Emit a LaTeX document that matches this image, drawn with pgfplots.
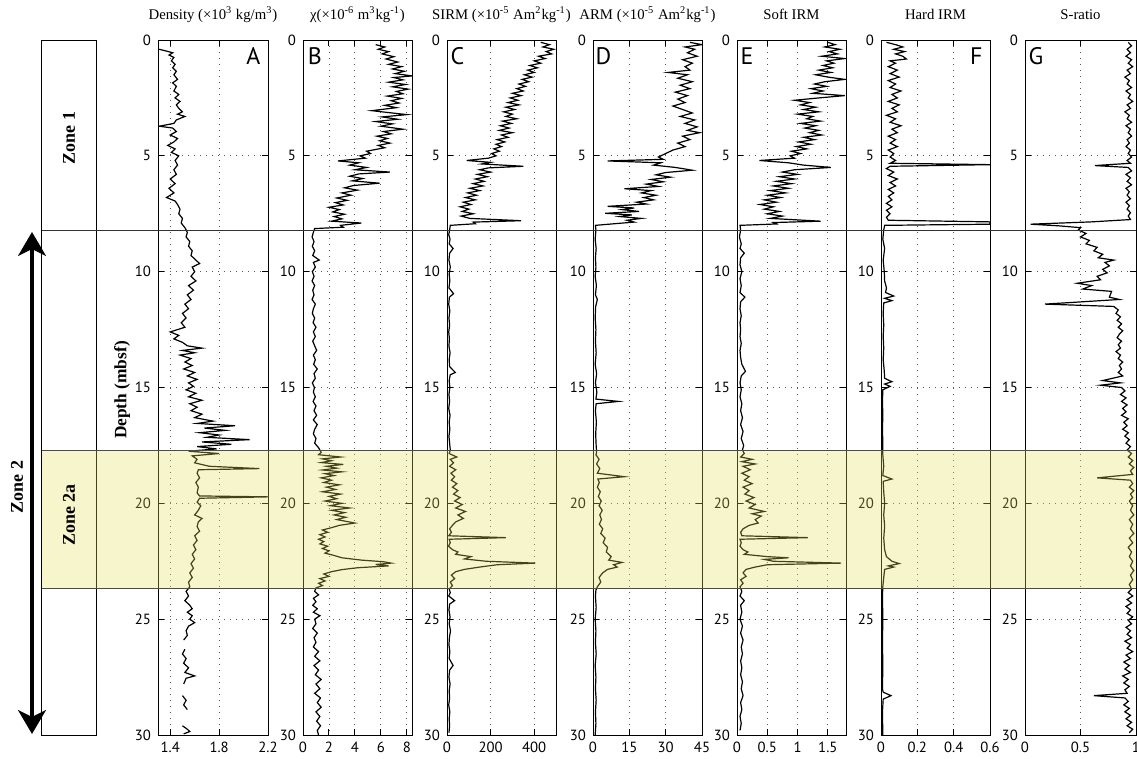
\documentclass[border=0pt]{standalone}
\usepackage{fontspec}
\setmainfont{Liberation Serif}
\newfontfamily\tickfont{PT Sans}
\usepackage{pgfplots}
\pgfplotsset{compat=1.18}
\usetikzlibrary{arrows.meta}
\definecolor{bandyellow}{RGB}{226,223,87}
\tikzset{
 letterR/.style={anchor=north east, inner sep=0pt, font=\tickfont\fontsize{12}{14}\selectfont},
 letterL/.style={anchor=north west, inner sep=0pt, font=\tickfont\fontsize{12}{14}\selectfont},
}
\pgfplotsset{
 panel/.style={
  scale only axis, width=54.5bp, height=347.5bp, anchor=south west,
  y dir=reverse, ymin=0, ymax=30, ytick={0,5,10,15,20,25,30},
  grid=major, major grid style={black!65, line width=0.45bp, dash pattern=on 0.5bp off 2.5bp},
  tick align=inside, major tick length=3bp,
  every tick/.style={black, line width=0.5bp},
  axis line style={line width=0.5bp},
  ticklabel style={font=\tickfont\fontsize{7.4}{8}\selectfont},
  /pgf/number format/assume math mode=true,
  /pgf/number format/fixed,
  unbounded coords=jump,
  title style={at={(axis description cs:0.5,1.013)}, anchor=base, inner sep=0pt, font=\fontsize{7.4}{9}\selectfont},
 },
 trace/.style={black, line width=0.6bp},
}
\begin{document}
\begin{tikzpicture}
\useasboundingbox (0,0) rectangle (568.5bp,-379.5bp);
% A density
\begin{axis}[panel, at={(79bp,-367.5bp)}, width=55bp, xmin=1.3, xmax=2.2, xtick={1.4,1.8,2.2},
 title={Density (×10\textsuperscript{3} kg/m\textsuperscript{3})}]
\addplot[trace] coordinates {(1.31,0.40) (1.37,0.48) (1.42,0.55) (1.39,0.65) (1.43,0.75) (1.41,0.9) (1.44,1.05) (1.42,1.2) (1.45,1.35) (1.43,1.5) (1.46,1.7) (1.42,1.85) (1.45,2.0) (1.43,2.2) (1.47,2.35) (1.44,2.5) (1.48,2.65) (1.45,2.8) (1.47,2.95) (1.50,3.1) (1.46,3.2) (1.52,3.3) (1.45,3.45) (1.43,3.6) (1.31,3.72) (1.42,3.8) (1.45,3.95) (1.40,4.1) (1.46,4.25) (1.43,4.4) (1.38,4.55) (1.44,4.7) (1.41,4.85) (1.47,5.0) (1.44,5.2) (1.46,5.4) (1.43,5.6) (1.45,5.8) (1.40,6.0) (1.44,6.2) (1.39,6.4) (1.43,6.6) (1.37,6.8) (1.44,6.95) (1.46,7.1) (1.48,7.3) (1.47,7.5) (1.50,7.7) (1.49,7.9) (1.52,8.1) (1.54,8.3) (1.53,8.5) (1.56,8.7) (1.55,8.9) (1.58,9.1) (1.57,9.3) (1.61,9.5) (1.64,9.65) (1.58,9.8) (1.60,10.0) (1.57,10.2) (1.61,10.4) (1.55,10.6) (1.59,10.8) (1.54,11.0) (1.57,11.2) (1.52,11.4) (1.55,11.6) (1.50,11.8) (1.53,12.0) (1.49,12.2) (1.52,12.4) (1.40,12.6) (1.47,12.75) (1.43,12.9) (1.50,13.05) (1.54,13.2) (1.66,13.3) (1.50,13.4) (1.60,13.5) (1.48,13.6) (1.57,13.75) (1.52,13.9) (1.58,14.05) (1.51,14.2) (1.60,14.35) (1.54,14.5) (1.62,14.65) (1.55,14.8) (1.59,14.95) (1.53,15.1) (1.61,15.25) (1.55,15.4) (1.66,15.55) (1.56,15.7) (1.62,15.85) (1.57,16.0) (1.66,16.15) (1.60,16.3) (1.75,16.45) (1.62,16.55) (1.93,16.65) (1.68,16.75) (1.85,16.85) (1.64,16.95) (1.80,17.05) (1.70,17.15) (2.05,17.25) (1.66,17.35) (1.90,17.45) (1.62,17.55) (1.78,17.65) (1.55,17.75) (1.80,17.85) (1.58,17.95) (1.62,18.1) (1.60,18.25) (1.72,18.4) (2.13,18.5) (1.63,18.55) (1.62,18.7) (1.64,18.9) (1.61,19.1) (1.63,19.3) (1.62,19.55) (1.64,19.68) (2.20,19.72) (1.64,19.78) (1.62,19.95) (1.65,20.1) (1.63,20.3) (1.60,20.5) (1.66,20.65) (1.63,20.8) (1.62,21.0) (1.64,21.2) (1.60,21.4) (1.62,21.6) (1.59,21.8) (1.61,22.0) (1.58,22.2) (1.60,22.4) (1.57,22.6) (1.59,22.8) (1.56,23.0) (1.58,23.2) (1.55,23.4) (1.56,23.6) (1.53,23.8) (1.55,24.0) (1.52,24.2) (1.56,24.4) (1.58,24.55) (1.54,24.7) (1.58,24.85) (1.56,25.0) (1.60,25.15) (1.55,25.3) (1.53,25.5) (1.54,25.7) (1.51,25.9) (nan,26.1) (1.52,26.3) (1.50,26.5) (1.53,26.7) (1.51,26.9) (1.55,27.1) (1.52,27.3) (1.60,27.45) (1.53,27.55) (1.51,27.8) (nan,28.0) (1.50,28.3) (1.53,28.5) (1.51,28.7) (1.54,28.9) (nan,29.2) (1.50,29.6) (1.54,29.75) (1.56,29.85) (1.51,29.95)};
\node[letterR] at (axis description cs:0.935,0.99) {A};
\end{axis}
% B chi
\begin{axis}[panel, at={(151.5bp,-367.5bp)}, xmin=0, xmax=8.4, xtick={0,2,4,6,8},
 title={χ(×10\textsuperscript{-6} m\textsuperscript{3}kg\textsuperscript{-1})}]
\addplot[trace] coordinates {(5.6,0.2) (6.3,0.3) (5.8,0.4) (6.6,0.5) (6.1,0.6) (7.0,0.72) (6.4,0.82) (7.3,0.95) (6.6,1.05) (7.6,1.15) (6.9,1.25) (7.8,1.35) (7.1,1.45) (8.4,1.55) (7.0,1.62) (7.7,1.72) (6.6,1.82) (7.9,1.92) (6.9,2.02) (8.1,2.12) (7.2,2.22) (7.7,2.32) (6.5,2.42) (7.6,2.52) (6.8,2.62) (7.4,2.72) (6.3,2.82) (7.2,2.92) (5.3,3.05) (6.4,3.12) (8.0,3.22) (6.1,3.32) (7.3,3.42) (5.6,3.52) (6.9,3.62) (6.0,3.72) (7.7,3.85) (6.2,3.95) (6.8,4.05) (5.7,4.15) (6.5,4.25) (5.9,4.35) (6.7,4.45) (5.8,4.55) (6.3,4.65) (4.9,4.8) (5.2,4.9) (4.4,5.0) (4.8,5.1) (2.7,5.22) (4.3,5.3) (3.6,5.4) (4.9,5.5) (4.0,5.6) (6.7,5.7) (4.3,5.78) (3.6,5.88) (4.6,5.98) (3.8,6.08) (5.9,6.18) (3.9,6.28) (3.2,6.38) (4.2,6.48) (3.0,6.6) (3.7,6.7) (2.6,6.82) (3.4,6.92) (2.5,7.02) (3.1,7.12) (2.0,7.22) (2.8,7.32) (2.3,7.42) (3.2,7.52) (2.4,7.62) (3.0,7.72) (2.2,7.82) (4.5,7.9) (2.9,8.0) (3.1,8.08) (0.9,8.14) (0.8,8.3) (0.7,8.5) (0.85,8.7) (0.72,8.9) (0.9,9.1) (0.75,9.3) (1.25,9.5) (0.8,9.6) (0.95,9.8) (0.72,10.0) (0.85,10.2) (0.7,10.4) (0.9,10.6) (0.75,10.8) (0.85,11.0) (0.7,11.2) (0.95,11.4) (0.8,11.6) (0.72,11.8) (0.9,12.0) (0.78,12.2) (1.0,12.4) (0.8,12.6) (0.95,12.8) (0.75,13.0) (0.9,13.2) (1.05,13.4) (0.8,13.6) (0.95,13.8) (0.82,14.0) (1.1,14.2) (0.85,14.4) (0.95,14.6) (0.72,14.8) (0.88,15.0) (0.8,15.2) (0.95,15.4) (0.78,15.6) (1.0,15.8) (0.85,16.0) (1.05,16.2) (0.8,16.4) (1.1,16.6) (0.9,16.8) (0.8,17.0) (1.0,17.2) (0.9,17.4) (1.2,17.6) (1.4,17.8) (1.2,17.9) (2.9,18.0) (1.5,18.08) (2.2,18.16) (1.4,18.24) (3.1,18.32) (1.8,18.4) (2.6,18.48) (1.5,18.56) (3.0,18.64) (1.7,18.72) (2.4,18.8) (1.4,18.9) (2.2,19.0) (1.6,19.1) (2.8,19.2) (1.8,19.3) (2.5,19.4) (1.5,19.5) (2.9,19.6) (2.0,19.7) (2.6,19.8) (1.7,19.9) (3.0,20.0) (2.1,20.1) (3.6,20.2) (2.2,20.3) (3.2,20.4) (2.4,20.5) (3.3,20.6) (2.6,20.7) (4.0,20.85) (2.8,20.95) (2.2,21.05) (1.5,21.15) (1.9,21.25) (1.3,21.35) (1.7,21.45) (1.2,21.55) (1.6,21.65) (1.3,21.75) (1.9,21.85) (1.5,21.95) (2.0,22.05) (1.7,22.15) (2.4,22.25) (3.0,22.35) (4.5,22.45) (6.2,22.52) (6.8,22.58) (5.6,22.64) (6.6,22.7) (4.2,22.78) (3.0,22.86) (2.2,22.95) (1.6,23.05) (2.0,23.15) (1.3,23.25) (1.7,23.35) (1.2,23.45) (1.5,23.55) (1.0,23.65) (0.9,23.8) (1.2,23.95) (0.8,24.1) (1.0,24.25) (0.75,24.4) (1.1,24.55) (0.8,24.7) (1.3,24.85) (0.9,25.0) (1.0,25.2) (0.75,25.4) (1.1,25.6) (0.85,25.8) (1.0,26.0) (0.8,26.2) (1.2,26.4) (0.9,26.6) (1.3,26.8) (0.85,27.0) (1.2,27.2) (0.95,27.4) (1.4,27.6) (1.0,27.8) (1.3,28.0) (0.9,28.2) (1.35,28.4) (1.1,28.6) (1.4,28.8) (1.0,29.0) (1.3,29.2) (1.05,29.4) (1.35,29.6) (1.1,29.8) (1.2,30.0)};
\node[letterL] at (axis description cs:0.04,0.99) {B};
\end{axis}
% C SIRM
\begin{axis}[panel, at={(223.5bp,-367.5bp)}, xmin=0, xmax=500, xtick={0,200,400},
 title={SIRM (×10\textsuperscript{-5} Am\textsuperscript{2}kg\textsuperscript{-1})}]
\addplot[trace] coordinates {(430,0.1) (470,0.2) (440,0.3) (490,0.4) (455,0.5) (480,0.6) (420,0.7) (450,0.8) (400,0.9) (430,1.0) (380,1.1) (415,1.2) (370,1.3) (400,1.4) (355,1.5) (390,1.6) (345,1.7) (375,1.8) (330,1.9) (360,2.0) (320,2.1) (350,2.2) (300,2.3) (340,2.4) (290,2.5) (325,2.6) (280,2.7) (330,2.8) (270,2.9) (310,3.0) (260,3.1) (300,3.2) (270,3.3) (320,3.4) (255,3.5) (295,3.6) (245,3.7) (285,3.8) (240,3.9) (300,4.0) (250,4.1) (280,4.2) (230,4.3) (265,4.4) (225,4.5) (250,4.6) (215,4.7) (240,4.8) (205,4.9) (225,5.0) (190,5.1) (90,5.2) (200,5.28) (160,5.35) (350,5.45) (190,5.52) (150,5.6) (200,5.7) (140,5.8) (185,5.9) (130,6.0) (170,6.1) (120,6.2) (165,6.3) (105,6.4) (150,6.5) (95,6.6) (135,6.7) (85,6.8) (130,6.9) (75,7.0) (110,7.1) (60,7.2) (100,7.3) (70,7.4) (120,7.5) (65,7.6) (105,7.7) (340,7.8) (120,7.86) (130,7.93) (15,8.0) (12,8.2) (8,8.4) (14,8.6) (10,8.8) (28,9.0) (12,9.2) (9,9.5) (15,9.8) (10,10.1) (13,10.4) (9,10.7) (30,10.95) (11,11.1) (8,11.4) (13,11.7) (9,12.0) (12,12.3) (8,12.6) (11,12.9) (9,13.2) (14,13.5) (10,13.8) (12,14.1) (38,14.35) (15,14.45) (10,14.7) (13,15.0) (9,15.3) (12,15.6) (8,15.9) (14,16.2) (10,16.5) (13,16.8) (9,17.1) (12,17.4) (15,17.7) (10,17.85) (45,18.0) (15,18.1) (30,18.25) (12,18.4) (40,18.55) (18,18.7) (35,18.85) (20,19.0) (45,19.15) (25,19.3) (50,19.45) (30,19.6) (60,19.75) (35,19.9) (70,20.05) (40,20.2) (85,20.35) (50,20.5) (75,20.65) (40,20.8) (25,20.95) (12,21.1) (20,21.25) (8,21.4) (270,21.48) (10,21.55) (15,21.7) (7,21.85) (25,22.0) (50,22.1) (40,22.2) (110,22.3) (80,22.4) (180,22.5) (405,22.58) (230,22.65) (150,22.75) (80,22.85) (40,22.95) (20,23.1) (35,23.25) (15,23.4) (25,23.55) (10,23.7) (15,23.85) (8,24.0) (35,24.2) (12,24.35) (9,24.6) (14,24.9) (10,25.2) (16,25.5) (11,25.8) (9,26.1) (13,26.4) (10,26.7) (28,27.0) (12,27.2) (9,27.5) (14,27.8) (10,28.1) (12,28.4) (8,28.7) (13,29.0) (10,29.3) (12,29.6) (9,29.9)};
\node[letterL] at (axis description cs:0.03,0.99) {C};
\end{axis}
% D ARM
\begin{axis}[panel, at={(296.5bp,-367.5bp)}, xmin=0, xmax=45, xtick={0,15,30,45},
 title={ARM (×10\textsuperscript{-5} Am\textsuperscript{2}kg\textsuperscript{-1})}]
\addplot[trace] coordinates {(40,0.1) (45,0.2) (38,0.3) (42,0.4) (39,0.55) (43,0.7) (37,0.85) (41,1.0) (38,1.15) (40,1.3) (31,1.4) (39,1.5) (35,1.65) (41,1.8) (36,1.95) (40,2.1) (34,2.25) (39,2.4) (35,2.55) (38,2.7) (33,2.85) (37,3.0) (41,3.15) (36,3.3) (42,3.45) (38,3.6) (43,3.75) (39,3.9) (44,4.0) (37,4.15) (40,4.3) (35,4.45) (38,4.6) (33,4.75) (30,4.9) (27,5.05) (29,5.15) (6,5.22) (28,5.3) (25,5.4) (34,5.5) (41,5.62) (30,5.72) (26,5.82) (32,5.92) (24,6.02) (29,6.12) (22,6.22) (27,6.32) (13,6.42) (24,6.5) (20,6.6) (26,6.7) (21,6.8) (25,6.9) (18,7.0) (22,7.08) (6,7.18) (17,7.25) (12,7.32) (19,7.4) (5,7.48) (16,7.55) (11,7.62) (20,7.7) (14,7.78) (17,7.86) (10,7.92) (1.0,8.0) (1.2,8.2) (0.9,8.6) (1.3,9.0) (1.0,9.4) (1.2,9.8) (0.9,10.2) (1.4,10.6) (1.0,11.0) (1.8,11.2) (1.1,11.5) (0.9,12.0) (1.2,12.5) (1.0,13.0) (1.3,13.5) (0.9,14.0) (1.5,14.4) (1.0,14.8) (1.6,15.2) (1.2,15.5) (10.5,15.6) (1.3,15.7) (1.0,16.0) (1.4,16.5) (1.1,17.0) (1.3,17.5) (1.5,17.8) (1.2,17.9) (2.5,18.1) (1.5,18.3) (2.8,18.5) (1.8,18.7) (13,18.85) (2.0,18.95) (2.6,19.1) (1.8,19.3) (3.0,19.5) (2.2,19.7) (3.4,19.9) (2.5,20.1) (3.8,20.3) (2.8,20.5) (3.5,20.7) (2.6,20.9) (4.0,21.1) (3.2,21.3) (5.0,21.5) (4.2,21.7) (6.0,21.9) (5.5,22.1) (7.5,22.3) (6.5,22.45) (12,22.55) (8.5,22.65) (10,22.75) (6,22.85) (4,23.0) (2.5,23.2) (3.2,23.4) (1.8,23.6) (1.2,23.75) (1.0,24.0) (1.3,24.5) (0.9,25.0) (1.2,25.5) (1.0,26.0) (1.3,26.5) (0.9,27.0) (1.2,27.5) (1.0,28.0) (1.3,28.5) (1.0,29.0) (1.2,29.5) (0.9,30.0)};
\node[letterL] at (axis description cs:0.02,0.99) {D};
\end{axis}
% E soft IRM
\begin{axis}[panel, at={(368.5bp,-367.5bp)}, xmin=0, xmax=1.8, xtick={0,0.5,1,1.5},
 title={Soft IRM}]
\addplot[trace] coordinates {(1.50,0.1) (1.62,0.2) (1.45,0.3) (1.70,0.4) (1.52,0.5) (1.66,0.6) (1.40,0.7) (1.78,0.8) (1.48,0.9) (1.60,1.0) (1.42,1.1) (1.58,1.2) (1.35,1.3) (1.55,1.4) (1.30,1.5) (1.50,1.6) (1.78,1.7) (1.45,1.8) (1.28,1.9) (1.48,2.0) (1.22,2.1) (1.42,2.2) (1.25,2.3) (1.78,2.4) (1.35,2.5) (0.95,2.6) (1.20,2.7) (1.05,2.8) (1.30,2.9) (1.10,3.0) (1.35,3.1) (1.00,3.2) (1.25,3.3) (1.15,3.4) (1.38,3.5) (1.05,3.6) (1.30,3.7) (1.12,3.8) (1.35,3.9) (1.20,4.0) (1.40,4.1) (1.10,4.2) (1.28,4.3) (1.02,4.4) (1.22,4.5) (0.98,4.6) (1.15,4.7) (0.90,4.8) (1.05,4.9) (0.88,5.0) (0.95,5.1) (0.37,5.2) (0.85,5.3) (1.1,5.4) (1.55,5.5) (0.95,5.6) (0.75,5.7) (1.0,5.8) (0.70,5.9) (0.95,6.0) (0.65,6.1) (0.90,6.2) (0.60,6.3) (0.85,6.4) (0.55,6.5) (0.80,6.6) (0.50,6.7) (0.72,6.8) (0.45,6.9) (0.65,7.0) (0.38,7.1) (0.60,7.2) (0.45,7.3) (0.70,7.4) (0.50,7.5) (0.75,7.6) (0.55,7.7) (1.38,7.82) (0.60,7.88) (0.65,7.94) (0.05,8.0) (0.06,8.2) (0.04,8.5) (0.07,8.8) (0.05,9.0) (0.12,9.2) (0.06,9.4) (0.05,9.7) (0.08,10.0) (0.05,10.3) (0.07,10.6) (0.05,10.9) (0.13,11.1) (0.06,11.3) (0.05,11.6) (0.07,11.9) (0.05,12.2) (0.06,12.5) (0.05,12.8) (0.07,13.1) (0.05,13.4) (0.06,13.7) (0.08,14.0) (0.14,14.3) (0.07,14.5) (0.05,14.8) (0.07,15.1) (0.05,15.4) (0.08,15.7) (0.06,16.0) (0.09,16.3) (0.06,16.6) (0.1,16.9) (0.07,17.2) (0.11,17.5) (0.09,17.7) (0.12,17.85) (0.06,18.0) (0.25,18.1) (0.08,18.2) (0.30,18.3) (0.10,18.4) (0.22,18.55) (0.08,18.7) (0.2,18.85) (0.12,19.0) (0.25,19.15) (0.1,19.3) (0.2,19.45) (0.13,19.6) (0.28,19.75) (0.15,19.9) (0.3,20.05) (0.2,20.2) (0.45,20.35) (0.25,20.45) (0.4,20.55) (0.3,20.7) (0.35,20.85) (0.2,20.95) (0.1,21.1) (0.06,21.25) (0.08,21.4) (1.17,21.48) (0.05,21.55) (0.07,21.7) (0.05,21.85) (0.1,22.0) (0.18,22.1) (0.12,22.2) (0.5,22.3) (0.85,22.35) (0.45,22.42) (0.6,22.5) (1.72,22.58) (0.5,22.65) (0.3,22.75) (0.15,22.85) (0.1,23.0) (0.15,23.15) (0.06,23.3) (0.1,23.45) (0.05,23.6) (0.08,23.8) (0.05,24.0) (0.12,24.2) (0.06,24.4) (0.08,24.7) (0.05,25.0) (0.09,25.3) (0.06,25.6) (0.1,25.9) (0.07,26.2) (0.09,26.5) (0.06,26.8) (0.08,27.1) (0.06,27.4) (0.09,27.7) (0.07,28.0) (0.1,28.3) (0.06,28.6) (0.08,28.9) (0.05,29.2) (0.07,29.5) (0.05,29.8)};
\node[letterL] at (axis description cs:0.03,0.99) {E};
\end{axis}
% F hard IRM
\begin{axis}[panel, at={(440.5bp,-367.5bp)}, xmin=0, xmax=0.6, xtick={0,0.2,0.4,0.6},
 title={Hard IRM}]
\addplot[trace] coordinates {(0.03,0.1) (0.08,0.2) (0.12,0.3) (0.07,0.4) (0.13,0.5) (0.08,0.6) (0.12,0.7) (0.14,0.82) (0.05,0.9) (0.08,1.0) (0.04,1.15) (0.09,1.3) (0.05,1.45) (0.10,1.6) (0.04,1.75) (0.08,1.9) (0.05,2.05) (0.11,2.2) (0.06,2.35) (0.09,2.5) (0.04,2.65) (0.10,2.8) (0.06,2.95) (0.09,3.1) (0.03,3.25) (0.08,3.4) (0.05,3.55) (0.11,3.7) (0.06,3.85) (0.09,4.0) (0.04,4.15) (0.08,4.3) (0.05,4.45) (0.09,4.6) (0.04,4.75) (0.07,4.9) (0.05,5.05) (0.08,5.2) (0.05,5.32) (0.6,5.38) (0.05,5.45) (0.03,5.55) (0.07,5.7) (0.04,5.85) (0.09,6.0) (0.05,6.15) (0.08,6.3) (0.04,6.45) (0.07,6.6) (0.04,6.75) (0.06,6.9) (0.03,7.05) (0.06,7.2) (0.03,7.35) (0.05,7.5) (0.03,7.65) (0.04,7.78) (0.6,7.85) (0.6,7.95) (0.02,8.0) (0.015,8.2) (0.01,8.6) (0.02,9.0) (0.012,9.5) (0.018,10.0) (0.02,10.4) (0.03,10.7) (0.025,10.9) (0.07,11.05) (0.02,11.15) (0.06,11.25) (0.015,11.35) (0.012,11.8) (0.015,12.3) (0.012,12.8) (0.015,13.3) (0.012,13.8) (0.018,14.3) (0.02,14.6) (0.06,14.75) (0.02,14.85) (0.05,14.95) (0.01,15.1) (0.008,15.6) (0.01,16.2) (0.008,16.8) (0.01,17.4) (0.01,17.9) (0.015,18.4) (0.01,18.8) (0.06,18.95) (0.012,19.05) (0.015,19.5) (0.02,20.0) (0.015,20.5) (0.02,21.0) (0.015,21.5) (0.02,22.0) (0.03,22.3) (0.06,22.5) (0.1,22.6) (0.04,22.7) (0.07,22.75) (0.02,22.85) (0.015,23.2) (0.01,23.6) (0.008,24.0) (0.01,25.0) (0.008,26.0) (0.01,27.0) (0.008,28.0) (0.012,28.15) (0.055,28.3) (0.012,28.45) (0.008,29.0) (0.01,30.0)};
\node[letterR] at (axis description cs:0.935,0.99) {F};
\end{axis}
% G S-ratio
\begin{axis}[panel, at={(512.5bp,-367.5bp)}, width=55.5bp, xmin=0, xmax=1, xtick={0,0.5,1},
 title={S-ratio}]
\addplot[trace] coordinates {(0.93,0.1) (0.96,0.25) (0.92,0.4) (0.95,0.55) (0.91,0.7) (0.96,0.85) (0.93,1.0) (0.97,1.15) (0.92,1.3) (0.95,1.45) (0.90,1.6) (0.94,1.75) (0.92,1.9) (0.96,2.05) (0.91,2.2) (0.95,2.35) (0.93,2.5) (0.97,2.65) (0.92,2.8) (0.95,2.95) (0.90,3.1) (0.94,3.25) (0.92,3.4) (0.96,3.55) (0.91,3.7) (0.95,3.85) (0.93,4.0) (0.96,4.15) (0.92,4.3) (0.94,4.45) (0.91,4.6) (0.95,4.75) (0.93,4.9) (0.96,5.05) (0.92,5.2) (0.95,5.32) (0.63,5.42) (0.93,5.5) (0.96,5.65) (0.91,5.8) (0.95,5.95) (0.92,6.1) (0.96,6.25) (0.91,6.4) (0.94,6.55) (0.92,6.7) (0.95,6.85) (0.91,7.0) (0.94,7.15) (0.92,7.3) (0.95,7.45) (0.93,7.6) (0.95,7.75) (0.6,7.85) (0.05,7.95) (0.3,8.02) (0.5,8.1) (0.48,8.2) (0.55,8.35) (0.50,8.5) (0.58,8.65) (0.55,8.8) (0.65,8.95) (0.62,9.1) (0.70,9.25) (0.66,9.4) (0.80,9.5) (0.72,9.6) (0.76,9.75) (0.70,9.9) (0.74,10.05) (0.65,10.2) (0.68,10.35) (0.47,10.5) (0.60,10.6) (0.52,10.75) (0.78,10.85) (0.76,11.1) (0.85,11.2) (0.18,11.4) (0.80,11.5) (0.84,11.65) (0.82,11.8) (0.86,11.95) (0.83,12.1) (0.87,12.25) (0.84,12.4) (0.88,12.55) (0.85,12.7) (0.83,12.85) (0.87,13.0) (0.84,13.15) (0.86,13.3) (0.82,13.45) (0.86,13.6) (0.84,13.75) (0.88,13.9) (0.85,14.05) (0.87,14.2) (0.84,14.35) (0.88,14.5) (0.70,14.7) (0.86,14.8) (0.68,14.9) (0.87,15.0) (0.90,15.15) (0.86,15.3) (0.91,15.45) (0.87,15.6) (0.92,15.75) (0.88,15.9) (0.91,16.05) (0.87,16.2) (0.93,16.35) (0.89,16.5) (0.92,16.65) (0.88,16.8) (0.93,16.95) (0.90,17.1) (0.94,17.25) (0.91,17.4) (0.95,17.55) (0.92,17.7) (0.96,17.85) (0.93,18.0) (0.97,18.15) (0.94,18.3) (0.98,18.45) (0.95,18.6) (0.97,18.75) (0.65,18.9) (0.95,19.0) (0.97,19.15) (0.94,19.3) (0.98,19.45) (0.95,19.6) (0.97,19.75) (0.94,19.9) (0.97,20.1) (0.95,20.3) (0.98,20.5) (0.94,20.7) (0.97,20.9) (0.95,21.1) (0.98,21.3) (0.94,21.5) (0.97,21.7) (0.93,21.9) (0.96,22.1) (0.94,22.3) (0.97,22.5) (0.95,22.7) (0.98,22.9) (0.95,23.1) (0.97,23.3) (0.94,23.5) (0.96,23.7) (0.93,23.85) (0.97,24.0) (0.92,24.15) (0.96,24.3) (0.91,24.45) (0.95,24.6) (0.92,24.75) (0.97,24.9) (0.93,25.05) (0.96,25.2) (0.91,25.35) (0.95,25.5) (0.92,25.65) (0.96,25.8) (0.90,25.95) (0.95,26.1) (0.92,26.25) (0.97,26.4) (0.91,26.55) (0.95,26.7) (0.89,26.85) (0.94,27.0) (0.90,27.15) (0.95,27.3) (0.88,27.45) (0.93,27.6) (0.89,27.75) (0.94,27.9) (0.90,28.05) (0.92,28.2) (0.62,28.3) (0.90,28.4) (0.93,28.55) (0.89,28.7) (0.94,28.85) (0.90,29.0) (0.95,29.15) (0.91,29.3) (0.96,29.45) (0.92,29.6) (0.97,29.75) (0.94,29.9)};
\node[letterL] at (axis description cs:0.03,0.99) {G};
\end{axis}
% annotations (coordinates in reference pixels)
\begin{scope}[x=0.5bp,y=-0.5bp]
\draw[line width=0.5bp] (42,41) rectangle (97,736);
\fill[bandyellow, fill opacity=0.3] (42,451) rectangle (1136,589);
\draw[black!70, line width=0.5bp] (42,451) -- (1136,451) (42,589) -- (1136,589);
\draw[black!80, line width=0.5bp] (42,231) -- (1136,231);
\draw[line width=1.6bp, {Stealth[length=12bp,width=14bp,inset=3.5bp]}-{Stealth[length=12bp,width=14bp,inset=3.5bp]}] (32,232) -- (32,734);
\node[rotate=90, font=\bfseries\fontsize{9}{10}\selectfont] at (69,138) {Zone 1};
\node[rotate=90, font=\bfseries\fontsize{9}{10}\selectfont] at (69,515) {Zone 2a};
\node[rotate=90, font=\bfseries\fontsize{9}{10}\selectfont] at (17,487) {Zone 2};
\node[rotate=90, font=\bfseries\fontsize{8.7}{10}\selectfont] at (122,390) {Depth (mbsf)};
\end{scope}
\end{tikzpicture}
\end{document}
